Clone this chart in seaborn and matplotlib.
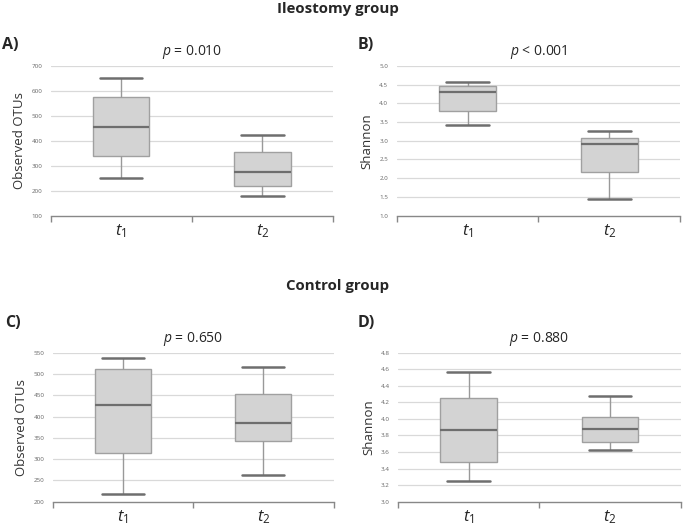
import numpy as np
import pandas as pd
import matplotlib
matplotlib.use("Agg")
import matplotlib.pyplot as plt
import seaborn as sns

# five-number summaries: min, q1, median, q3, max
times = ["t1", "t2"]
tick_labels = [r"$\mathit{t_1}$", r"$\mathit{t_2}$"]

ileo_otus_t1 = [252, 338, 455, 575, 650]
ileo_otus_t2 = [179, 218, 274, 353, 422]
ileo_shannon_t1 = [3.41, 3.80, 4.30, 4.45, 4.58]
ileo_shannon_t2 = [1.45, 2.16, 2.91, 3.06, 3.27]

ctrl_otus_t1 = [219, 314, 426, 512, 537]
ctrl_otus_t2 = [264, 342, 386, 454, 516]
ctrl_shannon_t1 = [3.25, 3.475, 3.862, 4.256, 4.57]
ctrl_shannon_t2 = [3.62, 3.717, 3.878, 4.019, 4.276]

p_texts = ["0.010", "< 0.001", "0.650", "0.880"]
p_ops = ["=", "", "=", "="]
panel_names = ["A)", "B)", "C)", "D)"]
ylabels = ["Observed OTUs", "Shannon", "Observed OTUs", "Shannon"]
ylims = [(100, 700), (1.0, 5.0), (200, 550), (3.0, 4.8)]
ysteps = [100, 0.5, 50, 0.2]


def make_df(a, b):
    return pd.DataFrame({"time": ["t1"] * len(a) + ["t2"] * len(b), "value": a + b})


frames = [make_df(ileo_otus_t1, ileo_otus_t2),
          make_df(ileo_shannon_t1, ileo_shannon_t2),
          make_df(ctrl_otus_t1, ctrl_otus_t2),
          make_df(ctrl_shannon_t1, ctrl_shannon_t2)]

sns.set_style("white")
plt.rcParams['font.family'] = ['Open Sans', 'DejaVu Sans']
plt.rcParams['mathtext.fontset'] = 'custom'
plt.rcParams['mathtext.rm'] = 'Open Sans'
plt.rcParams['mathtext.it'] = 'Open Sans:italic'

fig = plt.figure(figsize=(6.85, 5.31), dpi=100)

# axes rects in figure fractions
rects = [[0.074, 0.594, 0.412, 0.282],
         [0.579, 0.594, 0.414, 0.282],
         [0.077, 0.055, 0.410, 0.281],
         [0.581, 0.055, 0.413, 0.281]]

for i, df in enumerate(frames):
    ax = fig.add_axes(rects[i])
    lo, hi = ylims[i]
    ticks = np.arange(lo, hi + ysteps[i] / 2, ysteps[i])
    for t in ticks[1:]:
        ax.axhline(t, color="#d9d9d9", lw=0.9, zorder=0)
    sns.boxplot(data=df, x="time", y="value", order=times, ax=ax,
                width=0.40, whis=(0, 100), color="#d3d3d3", saturation=1,
                linecolor="#8f8f8f", linewidth=1.0, capwidths=0.30,
                medianprops={"color": "#6e6e6e", "linewidth": 1.6},
                capprops={"color": "#6e6e6e", "linewidth": 1.8},
                whiskerprops={"color": "#999999", "linewidth": 1.0},
                boxprops={"edgecolor": "#a0a0a0", "linewidth": 1.0})
    ax.set_xlim(-0.5, 1.5)
    ax.set_ylim(lo, hi)
    ax.set_yticks(ticks)
    fmt = "{:.0f}" if ysteps[i] >= 1 else "{:.1f}"
    ax.set_yticklabels([fmt.format(t) for t in ticks], fontsize=4.5, color="#666666")
    ax.tick_params(axis="y", length=0, pad=6)
    ax.set_xticks([0, 1])
    ax.set_xticklabels(tick_labels, fontsize=12)
    ax.tick_params(axis="x", which="major", length=0, pad=5)
    ax.set_xticks([-0.5, 0.5, 1.5], minor=True)
    ax.tick_params(axis="x", which="minor", bottom=True, length=4, width=1,
                   color="#888888", direction="out")
    ax.set_xlabel("")
    ax.set_ylabel(ylabels[i], fontsize=9.5, color="#333333", labelpad=4)
    for s in ["left", "right", "top"]:
        ax.spines[s].set_visible(False)
    ax.spines["bottom"].set_color("#888888")
    ax.spines["bottom"].set_linewidth(1.0)
    if p_ops[i]:
        ptxt = r"$p$ " + p_ops[i] + " " + p_texts[i]
    else:
        ptxt = r"$p$ " + p_texts[i]
    ax.text(0.5, 1.09, ptxt, transform=ax.transAxes, ha="center", va="center", fontsize=10)

# panel letters
letter_pos = [(0.003, 0.915), (0.522, 0.915), (0.007, 0.392), (0.522, 0.392)]
for name, (x, y) in zip(panel_names, letter_pos):
    fig.text(x, y, name, fontsize=11.5, fontweight="bold", ha="left", va="center")

fig.text(0.493, 0.983, "Ileostomy group", fontsize=10.8, fontweight="bold", ha="center", va="center")
fig.text(0.493, 0.462, "Control group", fontsize=10.8, fontweight="bold", ha="center", va="center")

fig.savefig("out.png", dpi=100)
